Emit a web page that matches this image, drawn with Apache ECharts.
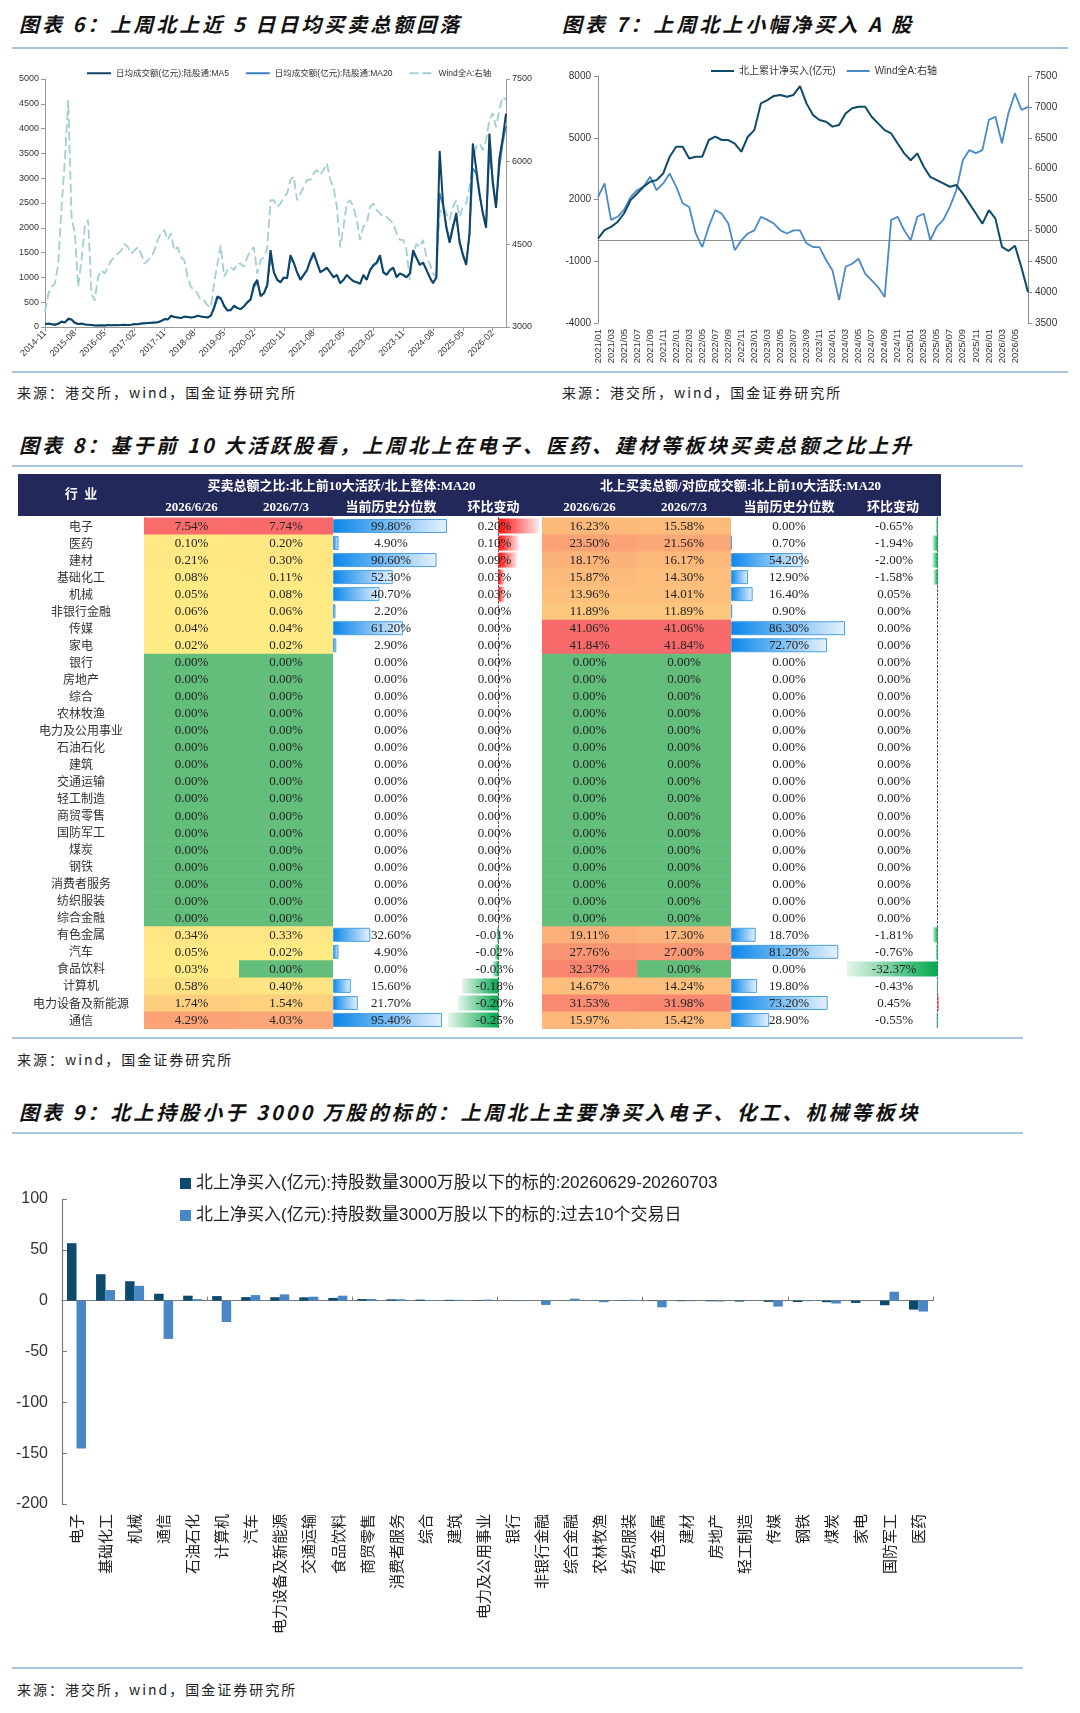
<!DOCTYPE html>
<html>
<head>
<meta charset="utf-8">
<script src="https://cdn.jsdelivr.net/npm/echarts@6/dist/echarts.min.js"></script>
<style>
body { margin: 0; background: #fff; }
#page { position: relative; width: 1080px; height: 1713px; overflow: hidden; font-family: "Noto Sans CJK SC", sans-serif; }
.title { position: absolute; font-size: 20px; font-weight: bold; font-style: italic; letter-spacing: 3px; color: #111; line-height: 24px; white-space: nowrap; }
.rule { position: absolute; height: 2px; background: #a9c5de; }
.src { position: absolute; font-size: 14px; letter-spacing: 2px; color: #222; line-height: 18px; white-space: nowrap; }
.chart { position: absolute; }
</style>
</head>
<body>
<div id="page">
	<div class="title" style="left:19px; top:12px;">图表 6：上周北上近 5 日日均买卖总额回落</div>
	<div class="title" style="left:562px; top:12px;">图表 7：上周北上小幅净买入 A 股</div>
	<div class="rule" style="left:12px; top:47px; width:1056px;"></div>
	<div id="chart6" class="chart" style="left:0; top:55px; width:540px; height:318px;"></div>
	<div id="chart7" class="chart" style="left:540px; top:55px; width:540px; height:318px;"></div>
	<div class="rule" style="left:12px; top:371px; width:1056px;"></div>
	<div class="src" style="left:17px; top:383px;">来源：港交所，wind，国金证券研究所</div>
	<div class="src" style="left:562px; top:383px;">来源：港交所，wind，国金证券研究所</div>

	<div class="title" style="left:19px; top:433px;">图表 8：基于前 10 大活跃股看，上周北上在电子、医药、建材等板块买卖总额之比上升</div>
	<div class="rule" style="left:12px; top:465px; width:1011px;"></div>
	<div id="table8" class="chart" style="left:0; top:470px; width:1080px; height:565px;"></div>
	<div class="rule" style="left:12px; top:1037px; width:1011px;"></div>
	<div class="src" style="left:17px; top:1050px;">来源：wind，国金证券研究所</div>

	<div class="title" style="left:19px; top:1100px;">图表 9：北上持股小于 3000 万股的标的：上周北上主要净买入电子、化工、机械等板块</div>
	<div class="rule" style="left:12px; top:1132px; width:1011px;"></div>
	<div id="chart9" class="chart" style="left:0; top:1140px; width:1080px; height:520px;"></div>
	<div class="rule" style="left:12px; top:1667px; width:1011px;"></div>
	<div class="src" style="left:17px; top:1680px;">来源：港交所，wind，国金证券研究所</div>
</div>
<script type="text/javascript">
	// ---- 图表6：月度读数（亿元 / 指数点位）-------------------------------------------
	var ma5 = [60,70,55,45,70,110,90,170,150,80, 60,70,50,45,40,30,30,35,30,40,
		35,40,35,40,45,40,45,60,55,70, 75,80,85,90,95,120,160,150,230,200,
		190,180,210,200,190,200,230,210,200,190, 230,400,620,580,420,330,340,430,380,360,
		420,500,560,850,950,620,680,850,1550,1100, 950,900,1000,980,1450,1300,1100,950,1050,1150,
		1350,1500,1300,1100,1150,1200,1100,1000,1050,880, 950,1050,980,920,900,870,1050,950,1150,1250,
		1300,1450,1100,1050,1150,1200,1000,1080,1050,1000, 1080,1550,1400,1250,1300,1150,1000,880,1000,3550,
		2500,2000,1700,2000,2300,1700,1450,1250,1900,3700, 3200,2700,2300,2000,3900,2900,2400,3400,3800,4300];
	var ma20 = [55,65,58,48,62,100,95,150,145,90, 65,65,55,48,42,32,30,34,31,38,
		36,39,36,39,44,41,44,57,56,68, 73,78,84,89,94,115,150,155,215,205,
		192,183,205,200,192,198,222,212,202,192, 222,370,580,570,440,345,345,415,385,365,
		410,485,545,800,900,650,670,820,1400,1120, 960,910,990,985,1380,1290,1110,970,1040,1140,
		1320,1450,1300,1120,1140,1180,1100,1010,1040,900, 950,1040,980,930,905,880,1030,960,1130,1230,
		1280,1400,1120,1060,1140,1180,1020,1070,1050,1010, 1070,1480,1390,1260,1290,1160,1010,900,1000,2700,
		2450,2050,1750,2050,2200,1750,1480,1300,1850,3200, 3100,2650,2300,2050,3500,3000,2450,3200,3700,4050];
	var windA6 = [3270,3600,3730,3790,4150,5180,6030,7120,5000,4700, 3730,4210,4820,4950,3610,3480,3910,4030,3970,4090,
		4210,4270,4330,4390,4510,4450,4330,4390,4450,4330, 4150,4210,4270,4390,4580,4700,4760,4580,4700,4390,
		4450,4270,4210,3910,3730,3670,3610,3480,3480,3390, 3360,3790,4150,4480,3910,4030,4090,4030,4150,4150,
		4090,4270,4390,4450,3970,4210,4270,4420,5300,5300, 5180,5240,5360,5420,5670,5730,5300,5420,5540,5670,
		5670,5790,5850,5760,5850,5970,5670,5540,5180,4450, 4820,5240,5300,5180,4940,4580,4820,4880,5180,5240,
		5120,5060,5000,5000,4940,4880,4700,4580,4580,4390, 3850,4330,4510,4450,4580,4270,4150,3970,3910,5060,
		5180,5060,4940,5180,5300,5000,5180,5240,5540,5970, 6270,6330,6210,6390,6760,6880,6630,6940,7180,7120];
	var names6 = ['日均成交额(亿元):陆股通:MA5', '日均成交额(亿元):陆股通:MA20', 'Wind全A:右轴'];

	// ---- 图表7：月度读数（亿元 / 指数点位）-------------------------------------------
	var netBuy7 = [100,510,670,910,1320,1970,2290,2620,2860,2940, 3260,4080,4560,4560,3990,4080,4080,4890,5050,4890,
		4890,4720,4320,5050,5370,6670,6830,7030,7080,6990, 7080,7510,6670,6100,5860,5780,5540,5620,6180,6430,
		6510,6510,6020,5700,5370,5210,4720,4240,3910,4240, 3590,3100,2940,2780,2620,2700,2290,1800,1320,830,
		1480,1070,-300,-500,-250,-1300,-2500];
	var windA7 = [5540,5760,5170,5220,5330,5540,5650,5710,5870,5650, 5760,5920,5710,5440,5380,4950,4730,5060,5330,5270,
		5110,4680,4840,4950,5000,5220,5170,5110,5000,4950, 5000,5000,4790,4730,4730,4520,4350,3870,4410,4460,
		4540,4300,4190,4080,3920,5170,5220,5000,4840,5220, 5270,4840,5060,5170,5380,5650,6140,6300,6250,6300,
		6790,6840,6410,6900,7220,6950,7000];
	var leftTicks7 = [-4000, -1000, 2000, 5000, 8000];
	var names7 = ['北上累计净买入(亿元)', 'Wind全A:右轴'];

	// ---- 图表8：表格 ---------------------------------------------------------------
	var industries = ['电子','医药','建材','基础化工','机械','非银行金融','传媒','家电','银行','房地产',
		'综合','农林牧渔','电力及公用事业','石油石化','建筑','交通运输','轻工制造','商贸零售','国防军工','煤炭',
		'钢铁','消费者服务','纺织服装','综合金融','有色金属','汽车','食品饮料','计算机','电力设备及新能源','通信'];
	var ratioPrev = [7.54,0.10,0.21,0.08,0.05,0.06,0.04,0.02,0,0, 0,0,0,0,0,0,0,0,0,0, 0,0,0,0,0.34,0.05,0.03,0.58,1.74,4.29];
	var ratioCur  = [7.74,0.20,0.30,0.11,0.08,0.06,0.04,0.02,0,0, 0,0,0,0,0,0,0,0,0,0, 0,0,0,0,0.33,0.02,0.00,0.40,1.54,4.03];
	var ratioPct  = [99.8,4.9,90.6,52.3,40.7,2.2,61.2,2.9,0,0, 0,0,0,0,0,0,0,0,0,0, 0,0,0,0,32.6,4.9,0,15.6,21.7,95.4];
	var ratioChg  = [0.20,0.10,0.09,0.03,0.03,0,0,0,0,0, 0,0,0,0,0,0,0,0,0,0, 0,0,0,0,-0.01,-0.02,-0.03,-0.18,-0.20,-0.25];
	var sharePrev = [16.23,23.50,18.17,15.87,13.96,11.89,41.06,41.84,0,0, 0,0,0,0,0,0,0,0,0,0, 0,0,0,0,19.11,27.76,32.37,14.67,31.53,15.97];
	var shareCur  = [15.58,21.56,16.17,14.30,14.01,11.89,41.06,41.84,0,0, 0,0,0,0,0,0,0,0,0,0, 0,0,0,0,17.30,27.00,0.00,14.24,31.98,15.42];
	var sharePct  = [0,0.7,54.2,12.9,16.4,0.9,86.3,72.7,0,0, 0,0,0,0,0,0,0,0,0,0, 0,0,0,0,18.7,81.2,0,19.8,73.2,28.9];
	var shareChg  = [-0.65,-1.94,-2.00,-1.58,0.05,0,0,0,0,0, 0,0,0,0,0,0,0,0,0,0, 0,0,0,0,-1.81,-0.76,-32.37,-0.43,0.45,-0.55];
	var groupHeads = ['买卖总额之比:北上前10大活跃/北上整体:MA20', '北上买卖总额/对应成交额:北上前10大活跃:MA20'];
	var colHeads = ['2026/6/26', '2026/7/3', '当前历史分位数', '环比变动'];

	// ---- 图表9：亿元 -------------------------------------------------------------
	var sectors9 = ['电子','基础化工','机械','通信','石油石化','计算机','汽车','电力设备及新能源','交通运输','食品饮料',
		'商贸零售','消费者服务','综合','建筑','电力及公用事业','银行','非银行金融','综合金融','农林牧渔','纺织服装',
		'有色金属','建材','房地产','轻工制造','传媒','钢铁','煤炭','家电','国防军工','医药'];
	var weekNet9 = [56.5,26,19.1,6.8,4.9,4.5,3.5,3.4,3.3,2.7, 1.6,1.3,1.0,0.8,0.5,0.2,0.0,-0.1,-0.2,-0.3,
		-0.4,-0.5,-0.6,-0.9,-1.2,-1.3,-1.5,-2.2,-4.5,-8.8];
	var tenDayNet9 = [-145.4,10.4,14.6,-37.6,1.5,-21,5.5,6.2,3.9,4.9, 1.6,1.4,0.5,0.8,1.0,-0.5,-4.2,2.0,-1.5,0.8,
		-6.5,-0.5,-0.8,-0.3,-5.8,-0.5,-2.8,-0.4,8.8,-10.7];
	var names9 = ['北上净买入(亿元):持股数量3000万股以下的标的:20260629-20260703',
		'北上净买入(亿元):持股数量3000万股以下的标的:过去10个交易日'];

	// ---------------------------------------------------------------------------
	function monthLabels(y, m, n, sep) {
		var out = [];
		for (var i = 0; i < n; i++) {
			out.push(y + sep + (m < 10 ? '0' + m : m));
			m++;
			if (m > 12) { m = 1; y++; }
		}
		return out;
	}
	var months6 = monthLabels(2014, 11, ma5.length, '-');
	var months7 = monthLabels(2021, 1, netBuy7.length, '/');

	var baseFont = '"Liberation Sans","Noto Sans CJK SC",sans-serif';
	var axisGray = '#9a9a9a';
	function plain(v) { return String(v); }

	// 图表6
	var chart6 = echarts.init(document.getElementById('chart6'));
	chart6.setOption({
		animation: false,
		textStyle: { fontFamily: baseFont },
		legend: {
			left: 81, top: 9, itemWidth: 24, itemHeight: 10, itemGap: 16,
			itemStyle: { opacity: 0 },
			textStyle: { fontSize: 8.5, color: '#333' },
			data: names6
		},
		grid: { left: 45, top: 24, width: 461, height: 248 },
		xAxis: {
			type: 'category', data: months6, boundaryGap: false,
			axisLine: { lineStyle: { color: axisGray } },
			axisTick: { interval: 8, length: 4, lineStyle: { color: axisGray } },
			axisLabel: { interval: 8, rotate: 45, fontSize: 9, color: '#333', margin: 5 }
		},
		yAxis: [{
			type: 'value', min: 0, max: 5000, interval: 500,
			axisLine: { show: true, lineStyle: { color: axisGray } },
			axisTick: { show: true, length: 4, lineStyle: { color: axisGray } },
			axisLabel: { fontSize: 9, color: '#333', margin: 6, formatter: plain },
			splitLine: { show: false }
		}, {
			type: 'value', min: 3000, max: 7500, interval: 1500,
			axisLine: { show: true, lineStyle: { color: axisGray } },
			axisTick: { show: true, length: 4, lineStyle: { color: axisGray } },
			axisLabel: { fontSize: 9, color: '#333', margin: 6, formatter: plain },
			splitLine: { show: false }
		}],
		series: [{
			name: names6[0], type: 'line', data: ma5, symbol: 'none', z: 4,
			lineStyle: { color: '#0d4468', width: 2 }, itemStyle: { color: '#0d4468' }
		}, {
			name: names6[1], type: 'line', data: ma20, symbol: 'none', z: 3,
			lineStyle: { color: '#3c7ebf', width: 1.6 }, itemStyle: { color: '#3c7ebf' }
		}, {
			name: names6[2], type: 'line', data: windA6, yAxisIndex: 1, symbol: 'none', z: 2,
			lineStyle: { color: '#a3ced3', width: 1.8, type: [9, 4] }, itemStyle: { color: '#a3ced3' }
		}]
	});

	// 图表7
	var chart7 = echarts.init(document.getElementById('chart7'));
	chart7.setOption({
		animation: false,
		textStyle: { fontFamily: baseFont },
		legend: {
			left: 165, top: 6, itemWidth: 23, itemHeight: 10, itemGap: 10,
			itemStyle: { opacity: 0 },
			textStyle: { fontSize: 10, color: '#333' },
			data: names7
		},
		grid: { left: 58, top: 21, width: 430, height: 247 },
		xAxis: [{
			type: 'category', data: months7, boundaryGap: false, position: 'bottom',
			axisLine: { show: false, onZero: false },
			axisTick: { show: false },
			axisLabel: {
				rotate: 90, fontSize: 9.5, color: '#333', margin: 6,
				interval: function (i) { return i % 2 === 0 && i < months7.length - 1; }
			}
		}, {
			type: 'category', data: months7, boundaryGap: false, position: 'top',
			axisLine: { show: true, onZero: true, lineStyle: { color: '#8c8c8c', width: 1.2 } },
			axisTick: { show: false }, axisLabel: { show: false }
		}],
		yAxis: [{
			type: 'value', min: -4000, max: 8000,
			axisLine: { show: true, lineStyle: { color: '#8c8c8c' } },
			axisTick: { show: true, length: 4, customValues: leftTicks7, lineStyle: { color: '#8c8c8c' } },
			axisLabel: { fontSize: 10, color: '#333', margin: 7, customValues: leftTicks7, formatter: plain },
			splitLine: { show: false }
		}, {
			type: 'value', min: 3500, max: 7500, interval: 500,
			axisLine: { show: true, lineStyle: { color: '#8c8c8c' } },
			axisTick: { show: true, length: 4, lineStyle: { color: '#8c8c8c' } },
			axisLabel: { fontSize: 10, color: '#333', margin: 7, formatter: plain },
			splitLine: { show: false }
		}],
		series: [{
			name: names7[0], type: 'line', data: netBuy7, symbol: 'none', z: 3,
			lineStyle: { color: '#0e4a6b', width: 2 }, itemStyle: { color: '#0e4a6b' }
		}, {
			name: names7[1], type: 'line', data: windA7, yAxisIndex: 1, symbol: 'none', z: 2,
			lineStyle: { color: '#4a89c8', width: 1.8 }, itemStyle: { color: '#4a89c8' }
		}]
	});

	// 图表8 表格
	var cellFont = '13px "Liberation Serif","Noto Sans CJK SC",serif';
	var headFont = 'bold 13px "Liberation Serif","Noto Sans CJK SC",serif';
	function fmtPct(v) { return v.toFixed(2) + '%'; }

	function heatStats(pool) {
		var s = pool.slice().sort(function (a, b) { return a - b; });
		var pos = (s.length - 1) * 0.5, lo = Math.floor(pos), hi = Math.ceil(pos);
		return { min: s[0], mid: s[lo] + (s[hi] - s[lo]) * (pos - lo), max: s[s.length - 1] };
	}
	function mix(a, b, t) {
		return 'rgb(' + [0, 1, 2].map(function (k) { return Math.round(a[k] + (b[k] - a[k]) * t); }).join(',') + ')';
	}
	function heatColor(v, st) {
		var green = [99, 190, 123], yellow = [255, 235, 132], red = [248, 105, 107];
		if (v <= st.mid) return mix(green, yellow, st.mid > st.min ? (v - st.min) / (st.mid - st.min) : 0);
		return mix(yellow, red, (v - st.mid) / (st.max - st.mid));
	}

	var rowsTop = 47.5, rowsHeight = 511;
	var tableCols = [
		{ x0: 144, x1: 239, kind: 'heat', values: ratioPrev, pool: ratioPrev.concat(ratioCur) },
		{ x0: 239, x1: 333, kind: 'heat', values: ratioCur, pool: ratioPrev.concat(ratioCur) },
		{ x0: 333, x1: 447, kind: 'pct', values: ratioPct },
		{ x0: 448, x1: 539, kind: 'chg', values: ratioChg },
		{ x0: 542, x1: 637, kind: 'heat', values: sharePrev, pool: sharePrev.concat(shareCur) },
		{ x0: 637, x1: 731, kind: 'heat', values: shareCur, pool: sharePrev.concat(shareCur) },
		{ x0: 731, x1: 845, kind: 'pct', values: sharePct },
		{ x0: 847, x1: 939, kind: 'chg', values: shareChg }
	];

	var tGrids = [], tX = [], tY = [], tSeries = [];
	tableCols.forEach(function (c, ci) {
		tGrids.push({ left: c.x0, top: rowsTop, width: c.x1 - c.x0, height: rowsHeight });
		var yAx = {
			type: 'category', data: industries, inverse: true, gridIndex: ci,
			axisTick: { show: false }, axisLabel: { show: false },
			axisLine: { show: false }
		};
		if (ci === 0) {
			yAx.axisLine = { show: true, lineStyle: { color: '#9a9a9a' } };
			yAx.axisLabel = { show: true, align: 'center', margin: 63, fontSize: 12, color: '#333', fontFamily: 'Noto Sans CJK SC' };
		}
		if (ci === 4) yAx.axisLine = { show: true, lineStyle: { color: '#b0b0b0' } };
		if (c.kind === 'chg') yAx.axisLine = { show: true, onZero: true, lineStyle: { color: '#555', type: [2, 2], width: 1 } };
		tY.push(yAx);

		if (c.kind === 'heat') {
			tX.push({ type: 'category', data: [''], gridIndex: ci, show: false });
			var st = heatStats(c.pool);
			tSeries.push({
				type: 'custom', xAxisIndex: ci, yAxisIndex: ci, silent: true,
				data: c.values.map(function (v, i) { return [0, i, v]; }),
				encode: { x: 0, y: 1 },
				renderItem: function (params, api) {
					var p = api.coord([api.value(0), api.value(1)]);
					var s = api.size([1, 1]);
					var v = api.value(2);
					return {
						type: 'group', children: [{
							type: 'rect',
							shape: { x: p[0] - s[0] / 2, y: p[1] - s[1] / 2, width: s[0], height: s[1] + 0.6 },
							style: { fill: heatColor(v, st) }
						}, {
							type: 'text',
							style: {
								text: fmtPct(v), x: p[0], y: p[1] + 0.5, fill: '#222', font: cellFont,
								align: 'center', verticalAlign: 'middle', textAlign: 'center', textVerticalAlign: 'middle'
							}
						}]
					};
				}
			});
			return;
		}

		var vmin = Math.min.apply(null, c.values), vmax = Math.max.apply(null, c.values);
		tX.push({ type: 'value', gridIndex: ci, min: c.kind === 'pct' ? 0 : vmin, max: vmax, show: false });

		var barData;
		if (c.kind === 'pct') {
			barData = c.values.map(function (v) { return v === 0 ? '-' : v; });
			tSeries.push({
				type: 'bar', xAxisIndex: ci, yAxisIndex: ci, silent: true, barWidth: 14,
				data: barData,
				itemStyle: {
					color: new echarts.graphic.LinearGradient(0, 0, 1, 0, [
						{ offset: 0, color: '#0a86ea' }, { offset: 1, color: '#e6f2fd' }]),
					borderColor: '#4aa0e8', borderWidth: 1
				}
			});
		} else {
			barData = c.values.map(function (v) {
				if (v === 0) return '-';
				var grad = v > 0
					? new echarts.graphic.LinearGradient(0, 0, 1, 0, [{ offset: 0, color: '#ff1010' }, { offset: 1, color: '#ffe8e8' }])
					: new echarts.graphic.LinearGradient(0, 0, 1, 0, [{ offset: 0, color: '#e4f5ea' }, { offset: 1, color: '#00a84d' }]);
				return { value: v, itemStyle: { color: grad } };
			});
			tSeries.push({
				type: 'bar', xAxisIndex: ci, yAxisIndex: ci, silent: true, barWidth: 15,
				data: barData
			});
		}
		tSeries.push({
			type: 'custom', xAxisIndex: ci, yAxisIndex: ci, silent: true, z: 5,
			data: c.values.map(function (v, i) { return [v, i]; }),
			encode: { x: 0, y: 1 },
			renderItem: function (params, api) {
				var cs = params.coordSys;
				var y = api.coord([0, api.value(1)])[1];
				return {
					type: 'text',
					style: {
						text: fmtPct(api.value(0)), x: cs.x + cs.width / 2 + 1, y: y + 0.5, fill: '#222', font: cellFont,
						align: 'center', verticalAlign: 'middle', textAlign: 'center', textVerticalAlign: 'middle'
					}
				};
			}
		});
	});

	function headText(x, y, text) {
		return {
			type: 'text', x: x, y: y, silent: true,
			style: {
				text: text, fill: '#fff', font: headFont,
				align: 'center', verticalAlign: 'middle', textAlign: 'center', textVerticalAlign: 'middle'
			}
		};
	}
	var headEls = [{ type: 'rect', shape: { x: 18, y: 4, width: 923, height: 42 }, style: { fill: '#22285a' }, silent: true },
		headText(81, 25, '行  业')];
	headEls.push(headText((tableCols[0].x0 + tableCols[3].x1) / 2, 17, groupHeads[0]));
	headEls.push(headText((tableCols[4].x0 + tableCols[7].x1) / 2, 17, groupHeads[1]));
	tableCols.forEach(function (c, ci) {
		var w = c.kind === 'pct' ? 2 : 0;
		headEls.push(headText((c.x0 + c.x1 + w) / 2, 38, colHeads[ci % 4]));
	});

	var table8 = echarts.init(document.getElementById('table8'));
	table8.setOption({
		animation: false,
		textStyle: { fontFamily: baseFont },
		grid: tGrids,
		xAxis: tX,
		yAxis: tY,
		series: tSeries,
		graphic: { elements: headEls }
	});

	// 图表9
	var chart9 = echarts.init(document.getElementById('chart9'));
	chart9.setOption({
		animation: false,
		textStyle: { fontFamily: baseFont },
		legend: {
			orient: 'vertical', left: 175, top: 30, itemWidth: 11, itemHeight: 11, itemGap: 15,
			icon: 'rect', textStyle: { fontSize: 17, color: '#222' },
			data: names9
		},
		grid: { left: 62, top: 59, width: 871, height: 305 },
		xAxis: [{
			type: 'category', data: sectors9, position: 'bottom',
			axisLine: { show: false, onZero: false }, axisTick: { show: false },
			axisLabel: { interval: 0, rotate: 90, fontSize: 15, color: '#222', margin: 10, fontFamily: 'Noto Sans CJK SC' }
		}, {
			type: 'category', data: sectors9, position: 'top',
			axisLine: { show: true, onZero: true, lineStyle: { color: '#7a7a7a', width: 1.2 } },
			axisTick: { show: true, length: 4, lineStyle: { color: '#7a7a7a' } },
			axisLabel: { show: false }
		}],
		yAxis: {
			type: 'value', min: -200, max: 100, interval: 50,
			axisLine: { show: true, lineStyle: { color: '#7a7a7a', width: 1.2 } },
			axisTick: { show: true, inside: true, length: 5, lineStyle: { color: '#7a7a7a' } },
			axisLabel: { fontSize: 16, color: '#333', margin: 14 },
			splitLine: { show: false }
		},
		series: [{
			name: names9[0], type: 'bar', data: weekNet9, barWidth: 9.5, barGap: '0%',
			itemStyle: { color: '#0c4a6e' }
		}, {
			name: names9[1], type: 'bar', data: tenDayNet9, barWidth: 9.5, barGap: '0%',
			itemStyle: { color: '#4886c5' }
		}]
	});
</script>
</body>
</html>
